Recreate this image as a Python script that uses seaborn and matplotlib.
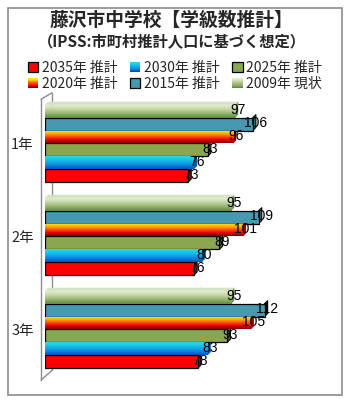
import numpy as np
import pandas as pd
import matplotlib
matplotlib.use("Agg")
import matplotlib.pyplot as plt
import seaborn as sns
from matplotlib.patches import Rectangle, Polygon
from matplotlib.legend_handler import HandlerBase
from matplotlib.colors import LinearSegmentedColormap

# ---- data ----
grades = ["1年", "2年", "3年"]
series = ["2009年 現状", "2015年 推計", "2020年 推計", "2025年 推計", "2030年 推計", "2035年 推計"]
v2009 = [97, 95, 95]
v2015 = [106, 109, 112]
v2020 = [96, 101, 105]
v2025 = [83, 89, 93]
v2030 = [76, 80, 83]
v2035 = [73, 76, 78]
legend_order = ["2035年 推計", "2020年 推計", "2030年 推計", "2015年 推計", "2025年 推計", "2009年 現状"]

values = [v2009, v2015, v2020, v2025, v2030, v2035]
df = pd.DataFrame({
    "grade": [g for s in series for g in grades],
    "series": [s for s in series for g in grades],
    "count": [v for vals in values for v in vals],
})

# ---- styles ----
base_colors = {
    "2009年 現状": "#A3BB78",
    "2015年 推計": "#4699AF",
    "2020年 推計": "#F04000",
    "2025年 推計": "#8CA650",
    "2030年 推計": "#16A6E0",
    "2035年 推計": "#FF0000",
}
gradients = {
    "2009年 現状": ["#E4ECD4", "#C3D4A4", "#95B06A", "#5E8C3C"],
    "2020年 推計": ["#FFEE00", "#FFB000", "#FF5000", "#E80000", "#7A0000"],
    "2030年 推計": ["#26DCE0", "#18BCE6", "#0E8CE0", "#0050C0"],
}
side_colors = {
    "2009年 現状": "#6E8F4A",
    "2015年 推計": "#2E6B7C",
    "2020年 推計": "#A00000",
    "2025年 推計": "#5E7434",
    "2030年 推計": "#0A5AA8",
    "2035年 推計": "#A00000",
}
cmaps = {k: LinearSegmentedColormap.from_list(k, v) for k, v in gradients.items()}

sns.set_style("white")
plt.rcParams["font.family"] = ["Noto Sans CJK JP", "DejaVu Sans"]

fig = plt.figure(figsize=(3.5, 4.0), dpi=100)
fig.patch.set_facecolor("white")
fig.patches.append(Rectangle((8 / 350, 5 / 400), 334 / 350, 387 / 400,
                             transform=fig.transFigure, fill=False,
                             edgecolor="#8C8C8C", linewidth=1.2, zorder=0))

ax = fig.add_axes([45 / 350, 0.0485, 294 / 350, 0.7207])
sns.barplot(data=df, y="grade", x="count", hue="series", hue_order=series,
            order=grades, orient="h", palette=base_colors, width=0.83,
            dodge=True, legend=False, ax=ax, saturation=1)

for s in ax.spines.values():
    s.set_visible(False)
ax.set_xticks([])
ax.set_xlabel("")
ax.set_ylabel("")
ax.tick_params(axis="y", length=0, pad=8, labelsize=10.5)
ax.patch.set_alpha(0)

# left wall of the 3D frame
wx0, wx1 = -4 / 1.96, 7 / 1.96
ytop0, ytop1 = -0.475, -0.545
ybot0, ybot1 = 2.545, 2.44
wall_kw = dict(color="#8C8C8C", lw=1.0, clip_on=False)
ax.plot([wx0, wx0], [ytop0, ybot0], zorder=0.5, **wall_kw)
ax.plot([wx1, wx1], [ytop1, ybot1], zorder=0.5, **wall_kw)
ax.plot([wx0, wx1], [ytop0, ytop1], zorder=0.5, **wall_kw)
ax.plot([wx0, wx1], [ybot0, ybot1], zorder=0.5, **wall_kw)

dx, dy = 1.6, 0.034
for name, container in zip(series, ax.containers):
    for bar in container:
        x0, y0 = bar.get_x(), bar.get_y()
        w, h = bar.get_width(), bar.get_height()
        x1, y1 = x0 + w, y0 + h
        bar.set_zorder(3)
        if name in gradients:
            bar.set_edgecolor("none")
            grad = np.linspace(0, 1, 64).reshape(-1, 1)
            im = ax.imshow(grad, cmap=cmaps[name], aspect="auto",
                           extent=(x0, x1, y1, y0), origin="upper",
                           zorder=3.1, interpolation="bilinear")
            im.set_clip_path(bar)
            ec = "none"
        else:
            bar.set_edgecolor("black")
            bar.set_linewidth(0.9)
            ec = "black"
        # right end face
        side = Polygon([(x1, y0), (x1 + dx, y0 - dy), (x1 + dx, y1 - dy), (x1, y1)],
                       closed=True, facecolor=side_colors[name], edgecolor=ec,
                       linewidth=0.8, zorder=2.9)
        ax.add_patch(side)
        # top face for the upper bar of each group
        if name == series[0]:
            top = Polygon([(x0, y0), (x0 + dx, y0 - dy), (x1 + dx, y0 - dy), (x1, y0)],
                          closed=True, facecolor="#D6E2C0", edgecolor="none", zorder=2.9)
            ax.add_patch(top)
        ax.text(x1 + 1.3, (y0 + y1) / 2 - 0.01, f"{int(round(w))}", ha="center", va="center",
                fontsize=10, family=["Liberation Sans", "DejaVu Sans"], color="black", zorder=5)

ax.set_ylim(2.55, -0.55)
ax.set_xlim(0, 150)


# legend with gradient swatches
class SwatchHandler(HandlerBase):
    def __init__(self, name):
        super().__init__()
        self.name = name

    def create_artists(self, legend, orig_handle, xdescent, ydescent, width, height, fontsize, trans):
        size = min(width, height)
        x = -xdescent + (width - size) / 2
        y = -ydescent + (height - size) / 2
        arts = []
        if self.name in gradients:
            n = 12
            cm = cmaps[self.name]
            for i in range(n):
                r = Rectangle((x, y + size - (i + 1) * size / n), size, size / n,
                              facecolor=cm(i / (n - 1)), edgecolor="none", transform=trans)
                arts.append(r)
        else:
            arts.append(Rectangle((x, y), size, size, facecolor=base_colors[self.name],
                                  edgecolor="black", linewidth=0.9, transform=trans))
        return arts


handles = [Rectangle((0, 0), 1, 1) for _ in legend_order]
handler_map = {h: SwatchHandler(n) for h, n in zip(handles, legend_order)}
fig.legend(handles, legend_order, handler_map=handler_map, ncol=3,
           loc="upper center", bbox_to_anchor=(0.5, 0.865), frameon=False,
           fontsize=10, handlelength=0.75, handleheight=0.75, handletextpad=0.25,
           columnspacing=0.9, labelspacing=0.15, borderpad=0)

fig.text(0.49, 1 - 20 / 400, "藤沢市中学校【学級数推計】", ha="center", va="center",
         fontsize=13.5, fontweight="bold")
fig.text(0.49, 1 - 42 / 400, "（IPSS:市町村推計人口に基づく想定）", ha="center", va="center",
         fontsize=11, fontweight="bold")

fig.savefig("out.png", dpi=100)
